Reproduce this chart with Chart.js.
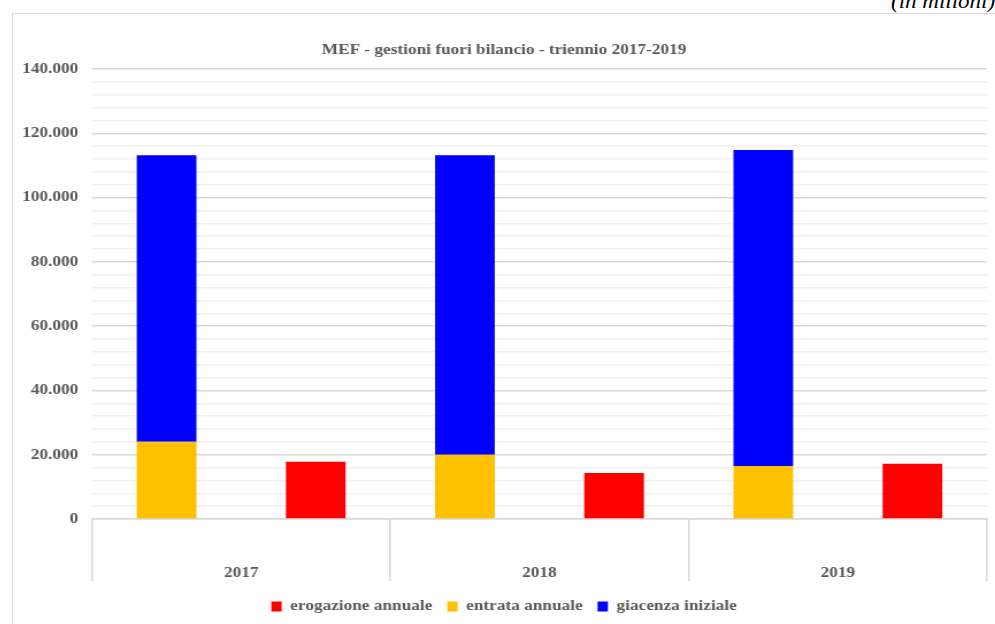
<!DOCTYPE html>
<html lang="it">
<head>
<meta charset="utf-8">
<title>MEF - gestioni fuori bilancio</title>
<script src="https://cdn.jsdelivr.net/npm/chart.js@4/dist/chart.umd.min.js"></script>
<style>
  html, body { margin: 0; padding: 0; background: #fff; overflow: hidden; }
  body { width: 995px; height: 624px; position: relative; }
  #unit {
    position: absolute; left: 891px; top: -9px;
    font: italic 20px/20px "Times New Roman", "Liberation Serif", "DejaVu Serif", serif;
    color: #000; white-space: nowrap;
    transform: scaleX(1.15); transform-origin: 0 0;
  }
  #frame {
    position: absolute; left: 12px; top: 13px;
    width: 1000px; height: 620px;
    border: 1px solid #d9d9d9;
  }
  /* the sheet is printed a bit wide, so the whole chart is stretched horizontally */
  #chart { display: block; transform: scaleX(1.15); transform-origin: 0 0; }
</style>
</head>
<body>
<div id="unit">(in milioni)</div>
<div id="frame"><canvas id="chart" width="870" height="610"></canvas></div>
<script>
/* ---------- Data ---------- */
const years      = ['2017', '2018', '2019'];
const entrata    = [24000, 20000, 16500];     // entrata annuale
const giacenza   = [89200, 93200, 98300];     // giacenza iniziale
const erogazione = [17800, 14300, 17200];     // erogazione annuale
const legendOrder = ['erogazione annuale', 'entrata annuale', 'giacenza iniziale'];

/* ---------- Style ---------- */
const GREY = '#595959';
const FONT = '"Times New Roman", "Liberation Serif", "DejaVu Serif", serif';

const fmt = (v) => String(v).replace(/\B(?=(\d{3})+(?!\d))/g, '.');

new Chart(document.getElementById('chart'), {
  type: 'bar',
  data: {
    labels: years,
    datasets: [
      { label: 'entrata annuale',    data: entrata,    backgroundColor: '#FFC000', stack: 'in' },
      { label: 'giacenza iniziale',  data: giacenza,   backgroundColor: '#0000FF', stack: 'in' },
      { label: 'erogazione annuale', data: erogazione, backgroundColor: '#FF0000', stack: 'out' }
    ]
  },
  options: {
    responsive: false,
    animation: false,
    categoryPercentage: 1.0,
    barPercentage: 0.4,
    layout: { padding: { left: 7, right: 23, top: 0, bottom: 0 } },
    scales: {
      x: {
        stacked: true,
        afterFit: (scale) => { scale.height = 67; },
        grid: {
          offset: true,
          drawOnChartArea: false,
          drawTicks: true,
          tickLength: 62,
          color: '#d9d9d9',
          lineWidth: 1.5
        },
        border: { display: true, color: '#d9d9d9', width: 1.5 },
        ticks: {
          padding: -17,
          color: GREY,
          font: { family: FONT, size: 15, weight: 'bold' }
        }
      },
      y: {
        stacked: true,
        min: 0,
        max: 140000,
        afterFit: (scale) => { scale.width = 61.7; },
        grid: {
          drawTicks: false,
          color: (ctx) => (ctx.tick && ctx.tick.value % 20000 === 0) ? '#d9d9d9' : '#f0f0f0',
          lineWidth: 1.5
        },
        border: { display: false },
        ticks: {
          stepSize: 4000,
          autoSkip: false,
          padding: 12,
          color: GREY,
          font: { family: FONT, size: 15, weight: 'bold' },
          callback: (v) => (v % 20000 === 0 ? fmt(v) : '')
        }
      }
    },
    plugins: {
      title: {
        display: true,
        text: 'MEF - gestioni fuori bilancio - triennio 2017-2019',
        color: GREY,
        font: { family: FONT, size: 15, weight: 'bold' },
        padding: { top: 27, bottom: 10 }
      },
      legend: {
        position: 'bottom',
        labels: {
          boxWidth: 9,
          boxHeight: 10,
          padding: 13,
          color: GREY,
          font: { family: FONT, size: 15, weight: 'bold' },
          sort: (a, b) => legendOrder.indexOf(a.text) - legendOrder.indexOf(b.text)
        }
      },
      tooltip: { enabled: false }
    }
  }
});
</script>
</body>
</html>
